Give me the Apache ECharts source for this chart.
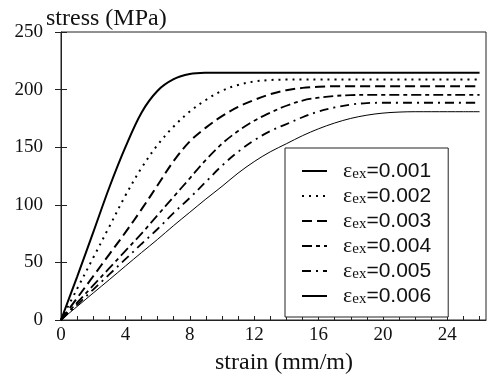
<!DOCTYPE html>
<html>
<head>
<meta charset="utf-8">
<script src="https://cdn.jsdelivr.net/npm/echarts@6/dist/echarts.min.js"></script>
<style>
html,body{margin:0;padding:0;background:#fff;}
#chart{width:488px;height:380px;}
</style>
</head>
<body>
<div id="chart"></div>
<script>
// Data
var strain = [0,1,2,3,4,5,6,7,8,9,10,11,12,13,14,15,16,17,18,19,20,21,22,23,24,25,26];
var stress001 = [0,37.5,76,115,150,180,199,209,213.5,214.6,214.7,214.7,214.7,214.7,214.7,214.7,214.7,214.7,214.7,214.7,214.7,214.7,214.7,214.7,214.7,214.7,214.7];
var stress002 = [0,27,54,81,108,132,152,168,181,191,199,204,207,208.3,208.7,208.7,208.7,208.7,208.7,208.7,208.7,208.7,208.7,208.7,208.7,208.7,208.7];
var stress003 = [0,19,38,57,76,96,117,138,155,167,177,185,191,196,199.5,201.5,202.5,203,203,203,203,203,203,203,203,203,203];
var stress004 = [0,15,30,45,60,75,91,107,123,139,153,164,173,180,186,190.5,193,194.5,195.2,195.5,195.5,195.5,195.5,195.5,195.5,195.5,195.5];
var stress005 = [0,13.2,26.4,39.6,52.8,66,79,93,106,120,134,146,156,164,170,176,181,184.5,187,188.3,188.6,188.6,188.6,188.6,188.6,188.6,188.6];
var stress006 = [0,11.7,23.4,35,46.8,58.5,70,82,93.5,105,116,127.5,137.5,146,153,160,166,171,175,177.8,179.6,180.5,180.8,180.8,180.8,180.8,180.8];
var legendNames = ['0.001','0.002','0.003','0.004','0.005','0.006'];
var xTickLabels = [0,4,8,12,16,20,24];
var yTickLabels = [0,50,100,150,200,250];

var allStress = [stress001, stress002, stress003, stress004, stress005, stress006];
var styles = [
  {width:2, type:'solid'},
  {width:2, type:[2,5]},
  {width:2, type:[10,5]},
  {width:1.8, type:[10,4,4,4]},
  {width:1.8, type:[9,5,2,5]},
  {width:1, type:'solid'}
];
var serif = "Liberation Serif";
var series = allStress.map(function(arr, i){
  return {
    name: legendNames[i],
    type: 'line',
    showSymbol: false,
    symbol: 'none',
    smooth: 0.35,
    lineStyle: {color:'#000', width: styles[i].width, type: styles[i].type},
    itemStyle: {color:'#000'},
    data: strain.map(function(x, j){ return [x, arr[j]]; }),
    z: 2
  };
});

var chart = echarts.init(document.getElementById('chart'), null, {renderer:'canvas'});
chart.setOption({
  animation: false,
  backgroundColor: '#fff',
  textStyle: {fontFamily: serif},
  title: {
    text: 'stress (MPa)',
    left: 41, top: 2,
    textStyle: {fontFamily: serif, fontSize: 24, fontWeight: 'normal', color: '#111'}
  },
  grid: {left: 61, top: 32, width: 425, height: 290, show: true, borderColor: '#222', borderWidth: 1},
  legend: {
    left: 285, top: 148,
    orient: 'vertical',
    backgroundColor: '#fff',
    borderColor: '#222', borderWidth: 1, borderRadius: 0,
    padding: [12, 17, 10, 16],
    itemGap: 3,
    itemWidth: 25, itemHeight: 14,
    itemStyle: {opacity: 0},
    data: legendNames,
    formatter: function(n){ return '{e|ε}{s|ex}{v|=' + n + '}'; },
    textStyle: {
      color: '#111',
      fontFamily: serif,
      rich: {
        e: {fontFamily: serif, fontSize: 22, padding: [0,0,0,11], lineHeight: 22},
        s: {fontFamily: serif, fontSize: 15, padding: [7,0,0,0], lineHeight: 22},
        v: {fontFamily: 'Liberation Sans', fontSize: 21, lineHeight: 22}
      }
    },
    z: 10
  },
  xAxis: {
    type: 'value', min: 0, max: 26.4, interval: 1,
    name: 'strain (mm/m)', nameLocation: 'middle', nameGap: 31,
    nameTextStyle: {fontFamily: serif, fontSize: 24, color: '#111', padding: [0,0,0,21]},
    axisLine: {show: true, lineStyle: {color: '#222', width: 1}},
    axisTick: {show: true, inside: true, length: 4, lineStyle: {color: '#222'}},
    axisLabel: {
      fontFamily: serif, fontSize: 19, color: '#111', margin: 6,
      showMaxLabel: false,
      formatter: function(v){ return xTickLabels.indexOf(v) >= 0 ? String(v) : ''; }
    },
    splitLine: {show: false}
  },
  yAxis: [{
    type: 'value', min: 0, max: 250, interval: 50,
    axisLine: {show: true, lineStyle: {color: '#222', width: 1}},
    axisTick: {show: true, inside: true, length: 6, lineStyle: {color: '#222'}},
    axisLabel: {
      fontFamily: serif, fontSize: 19, color: '#111', margin: 18,
      formatter: function(v){ return yTickLabels.indexOf(v) >= 0 ? String(v) : ''; }
    },
    splitLine: {show: false}
  }, {
    type: 'value', min: 0, max: 250, interval: 50, position: 'left',
    axisLine: {show: false},
    axisTick: {show: true, inside: false, length: 6, lineStyle: {color: '#222'}},
    axisLabel: {show: false},
    splitLine: {show: false}
  }],
  series: series
});
</script>
</body>
</html>
